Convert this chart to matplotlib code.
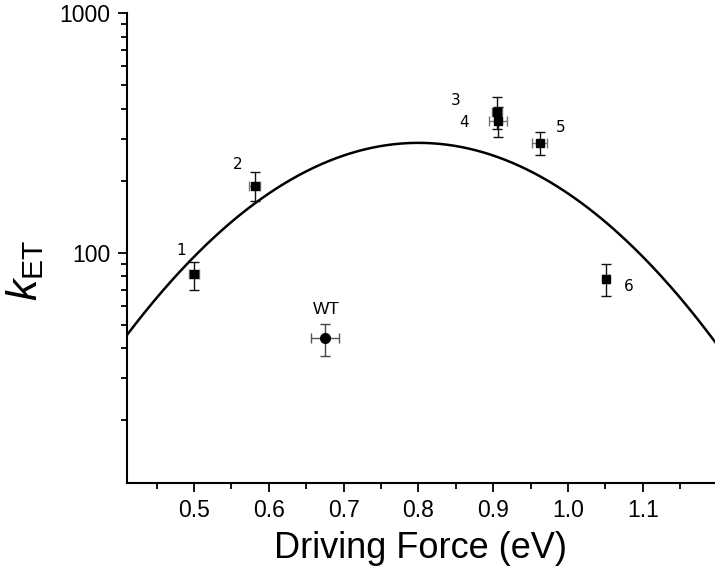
import matplotlib
matplotlib.use("Agg")
import matplotlib.pyplot as plt
import numpy as np

plt.rcParams['font.family'] = ['Liberation Sans', 'DejaVu Sans']
plt.rcParams['mathtext.fontset'] = 'custom'
plt.rcParams['mathtext.rm'] = 'Liberation Sans'
plt.rcParams['mathtext.it'] = 'Liberation Sans:italic'

# mutants 1-6
labels = ['1', '2', '3', '4', '5', '6']
dg = [0.500, 0.581, 0.905, 0.907, 0.962, 1.051]
k_et = [82, 191, 389, 357, 287, 78]
k_lo = [12, 26, 60, 51, 31, 12]
k_hi = [10, 26, 60, 50, 32, 12]
dg_err = [0.007, 0.007, 0.007, 0.012, 0.010, 0.004]

# wild type
wt_dg = 0.675
wt_k = 44.3
wt_lo = 7.2
wt_hi = 6.4
wt_dg_err = 0.019

# Marcus curve parameters
lam = 0.80      # reorganisation energy (eV), peak position
k_max = 288.0   # rate at the peak
kT = 0.0257     # eV

# label offsets (points) from each marker
offsets = {'1': (-9.5, 17), '2': (-12, 15.5), '3': (-30, 8), '4': (-24.5, -1.5),
           '5': (15, 11.5), '6': (16, -5.5)}

fig = plt.figure(figsize=(7.15, 5.81), dpi=100)
ax = fig.add_axes([0.1772, 0.1692, 0.8228, 0.8079])

x = np.linspace(0.41, 1.2, 400)
ax.plot(x, k_max * np.exp(-(lam - x) ** 2 / (4 * lam * kT)), color='black', lw=1.8, zorder=2)

# horizontal (grey) and vertical (black) error bars
ax.errorbar(dg, k_et, xerr=dg_err, fmt='none', ecolor='#777777', elinewidth=1, capsize=3.5, capthick=1, zorder=3)
ax.errorbar(dg, k_et, yerr=[k_lo, k_hi], fmt='none', ecolor='#111111', elinewidth=1, capsize=3.5, capthick=1, zorder=3)
ax.plot(dg, k_et, 's', color='black', ms=6, zorder=4)

ax.errorbar([wt_dg], [wt_k], xerr=wt_dg_err, fmt='none', ecolor='#555555', elinewidth=1, capsize=3.5, capthick=1, zorder=3)
ax.errorbar([wt_dg], [wt_k], yerr=[[wt_lo], [wt_hi]], fmt='none', ecolor='#444444', elinewidth=1, capsize=3.5, capthick=1, zorder=3)
ax.plot([wt_dg], [wt_k], 'o', color='black', ms=7, zorder=4)

for lab, xi, yi in zip(labels, dg, k_et):
    ax.annotate(lab, (xi, yi), xytext=offsets[lab], textcoords='offset points',
                ha='center', va='center', fontsize=11, family=['DejaVu Sans'])
ax.annotate('WT', (wt_dg, wt_k), xytext=(1, 20), textcoords='offset points',
            ha='center', va='center', fontsize=12.5)

ax.set_yscale('log')
ax.set_xlim(0.41, 1.1965)
ax.set_ylim(11, 1000)
ax.set_xticks([0.5, 0.6, 0.7, 0.8, 0.9, 1.0, 1.1])
ax.set_xticks(np.arange(0.45, 1.2, 0.1), minor=True)
ax.set_yticks([100, 1000])
ax.set_yticklabels(['100', '1000'])
ax.set_yticks([20, 30, 40, 50, 60, 70, 80, 90, 200, 300, 400, 500, 600, 700, 800, 900], minor=True)
ax.yaxis.set_minor_formatter(matplotlib.ticker.NullFormatter())

ax.spines['top'].set_visible(False)
ax.spines['right'].set_visible(False)
for s in ['left', 'bottom']:
    ax.spines[s].set_linewidth(1.5)
ax.tick_params(which='major', length=6.5, width=1.3, labelsize=16.5, pad=5)
ax.tick_params(which='minor', length=4, width=1.3)

ax.set_xlabel('Driving Force (eV)', fontsize=26, labelpad=7)
fig.text(25 / 715, 1 - 270 / 581, r'$k_{\mathrm{ET}}$', rotation=90, ha='center', va='center', fontsize=31)

fig.savefig('out.png', dpi=100)
